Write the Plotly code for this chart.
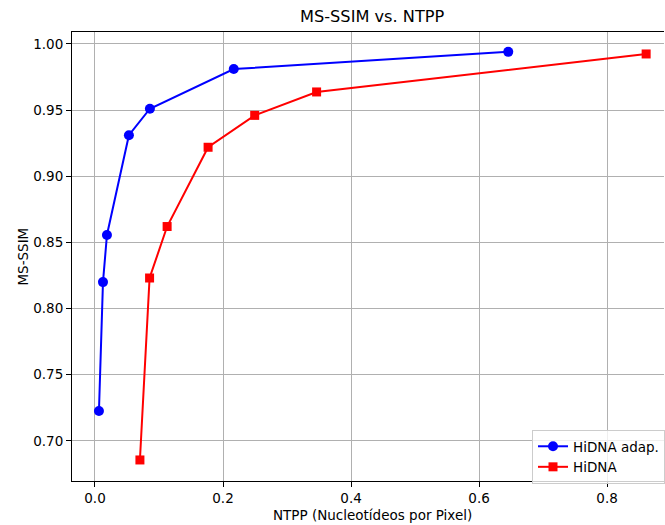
import plotly.graph_objects as go

# Data
adap_ntpp = [0.0062, 0.0125, 0.0187, 0.053, 0.0858, 0.2168, 0.6456]
adap_ssim = [0.7226, 0.820, 0.8556, 0.931, 0.951, 0.981, 0.994]
hidna_ntpp = [0.0702, 0.0853, 0.1127, 0.1767, 0.2495, 0.3462, 0.861]
hidna_ssim = [0.6856, 0.8231, 0.862, 0.9219, 0.946, 0.9637, 0.9924]

x_ticks = [0.0, 0.2, 0.4, 0.6, 0.8]
y_ticks = [0.70, 0.75, 0.80, 0.85, 0.90, 0.95, 1.00]

FONT = "DejaVu Sans"

fig = go.Figure()
fig.add_trace(go.Scatter(
    x=adap_ntpp, y=adap_ssim, mode="lines+markers", name="HiDNA adap.",
    line=dict(color="#0000ff", width=2),
    marker=dict(symbol="circle", size=10, color="#0000ff"),
))
fig.add_trace(go.Scatter(
    x=hidna_ntpp, y=hidna_ssim, mode="lines+markers", name="HiDNA",
    line=dict(color="#ff0000", width=2),
    marker=dict(symbol="square", size=9, color="#ff0000"),
))

L, R, T, B = 72, 0, 32, 44
W, H = 665, 525
pw = W - L - R
ph = H - T - B

axis_common = dict(
    showgrid=True, gridcolor="#b0b0b0", gridwidth=0.8,
    zeroline=False, showline=True, linecolor="black", linewidth=1,
    ticks="outside", ticklen=5, tickcolor="black", tickwidth=1,
    tickfont=dict(family=FONT, size=13.5, color="#000000"),
)

fig.update_layout(
    width=W, height=H,
    margin=dict(l=L, r=R, t=T, b=B),
    paper_bgcolor="white", plot_bgcolor="white",
    font=dict(family=FONT, size=13.5, color="#000000"),
    showlegend=True,
    legend=dict(
        x=(533 - L) / pw, y=(481 - 430) / ph, xanchor="left", yanchor="top",
        bgcolor="rgba(255,255,255,0.8)", bordercolor="#cccccc", borderwidth=1,
        font=dict(family=FONT, size=13.5, color="#000000"),
        tracegroupgap=0, itemwidth=30,
    ),
    xaxis=dict(range=[-0.0359, 0.8889], tickvals=x_ticks,
               ticktext=[f"{v:.1f}" for v in x_ticks], mirror=True, **axis_common),
    yaxis=dict(range=[0.6697, 1.009], tickvals=y_ticks,
               ticktext=[f"{v:.2f}" for v in y_ticks], **axis_common),
    annotations=[
        dict(text="MS-SSIM vs. NTPP", xref="paper", yref="paper",
             x=(373 - L) / pw, y=1 + (32 - 17) / ph, xanchor="center", yanchor="middle",
             showarrow=False, font=dict(family=FONT, size=16.2, color="#000000")),
        dict(text="NTPP (Nucleotídeos por Pixel)", xref="paper", yref="paper",
             x=(373 - L) / pw, y=-(515 - 481) / ph, xanchor="center", yanchor="middle",
             showarrow=False, font=dict(family=FONT, size=13.5, color="#000000")),
        dict(text="MS-SSIM", xref="paper", yref="paper",
             x=-(L - 22) / pw, y=0.5, xanchor="center", yanchor="middle", textangle=-90,
             showarrow=False, font=dict(family=FONT, size=13.5, color="#000000")),
    ],
)

fig.write_html(
    "out.html",
    config={"displayModeBar": False},
    post_script="document.body.style.margin='0';document.body.style.overflow='hidden';",
)
